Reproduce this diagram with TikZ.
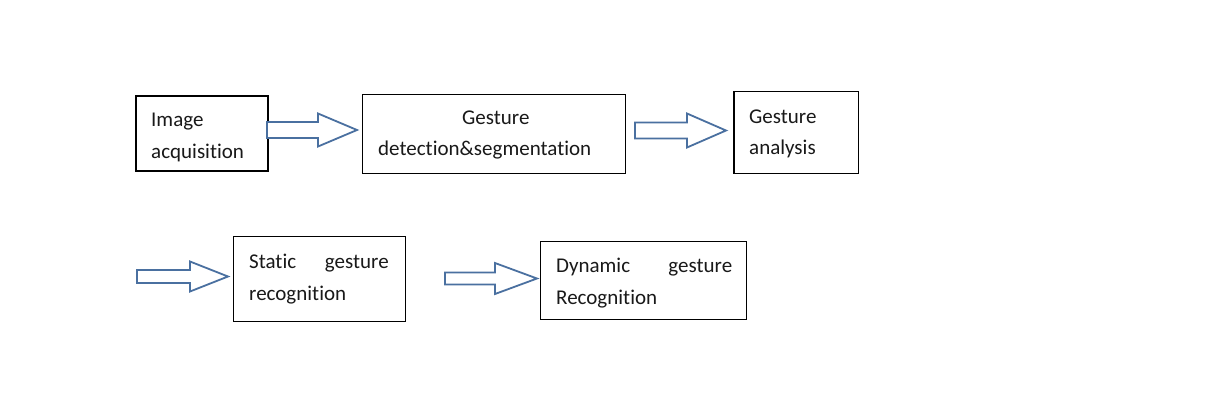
\documentclass[tikz,border=0pt]{standalone}
\usepackage{fontspec}
\setmainfont{Carlito}[Ligatures=NoCommon]
\definecolor{arrblue}{RGB}{74,112,160}
\newcommand{\blockarr}[6]{% left x, head base x, tip x, centre y, shaft half, head half
  \draw[arr] (#1,#4-#5) -- (#2,#4-#5) -- (#2,#4-#6) -- (#3,#4) -- (#2,#4+#6) -- (#2,#4+#5) -- (#1,#4+#5) -- cycle;}
\tikzset{
  box/.style={draw=black, line width=1.2pt, rectangle, inner sep=0pt},
  txt/.style={inner sep=0pt, align=left, font=\fontsize{21}{31.5}\selectfont, text=black!90},
  arr/.style={draw=arrblue, line width=1.8pt, fill=white, line join=miter}
}
\begin{document}
\begin{tikzpicture}[x=1pt,y=-1pt]
\useasboundingbox[fill=white] (0,0) rectangle (1212,413);
% boxes
\node[box, minimum width=132pt, minimum height=75pt] (b1) at (202,133.5) {};
\node[box, minimum width=263.5pt, minimum height=79pt] (b2) at (494,133.7) {};
\node[box, minimum width=124.5pt, minimum height=82pt] (b3) at (796.3,132.2) {};
\node[box, minimum width=172pt, minimum height=85pt] (b4) at (319.3,279.2) {};
\node[box, minimum width=206pt, minimum height=78pt] (b5) at (643.8,280.5) {};
% texts
\node[txt, anchor=north west] (t1) at (151,113) {Image\\acquisition};
\node[txt, anchor=north west] (t2) at (378,110.5) {\hspace*{84pt}Gesture\\detection\&segmentation};
\node[txt, anchor=north west] (t3) at (749,109.5) {Gesture\\analysis};
\node[txt, anchor=north west] (t4) at (249,254) {\makebox[139.5pt][s]{Static gesture}\\recognition};
\node[txt, anchor=north west] (t5) at (556,258) {\makebox[176pt][s]{Dynamic gesture}\\Recognition};
% block arrows
\blockarr{267}{318}{357}{130}{8}{16.5}
\blockarr{635}{687}{726}{130.5}{8}{17}
\blockarr{137}{190}{228}{276.5}{6.5}{15}
\blockarr{445}{495}{537}{278.5}{6}{15.5}
\end{tikzpicture}
\end{document}
